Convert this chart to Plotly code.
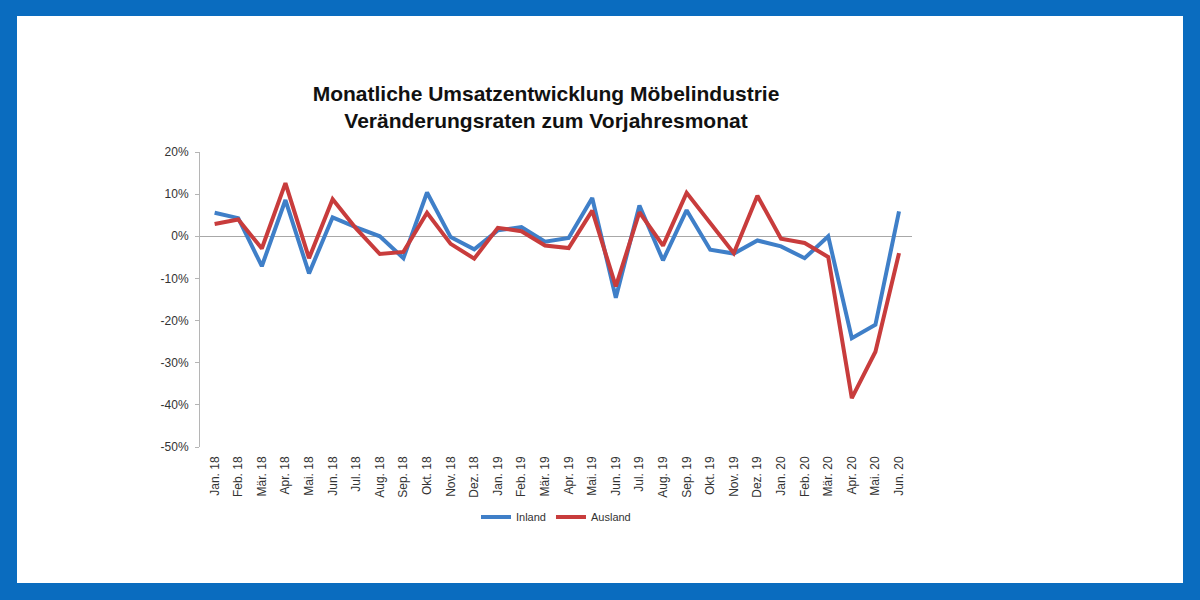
import plotly.graph_objects as go

months = ["Jan. 18", "Feb. 18", "Mär. 18", "Apr. 18", "Mai. 18", "Jun. 18", "Jul. 18", "Aug. 18",
          "Sep. 18", "Okt. 18", "Nov. 18", "Dez. 18", "Jan. 19", "Feb. 19", "Mär. 19", "Apr. 19",
          "Mai. 19", "Jun. 19", "Jul. 19", "Aug. 19", "Sep. 19", "Okt. 19", "Nov. 19", "Dez. 19",
          "Jan. 20", "Feb. 20", "Mär. 20", "Apr. 20", "Mai. 20", "Jun. 20"]

inland = [5.6, 4.3, -7.1, 8.6, -8.8, 4.5, 2.1, 0.0, -5.2, 10.4, -0.2, -3.1, 1.4, 2.2, -1.3,
          -0.4, 9.1, -14.6, 7.3, -5.7, 6.2, -3.2, -4.1, -1.0, -2.4, -5.2, 0.0, -24.2, -21.0, 5.9]
ausland = [2.9, 4.0, -2.9, 12.6, -5.2, 8.8, 1.8, -4.2, -3.7, 5.6, -1.8, -5.3, 2.0, 1.2, -2.2,
           -2.8, 6.1, -11.9, 5.7, -2.2, 10.3, 3.2, -4.0, 9.6, -0.6, -1.6, -4.9, -38.4, -27.4, -4.0]

y_ticks = [20, 10, 0, -10, -20, -30, -40, -50]
y_tick_labels = ["20%", "10%", "0%", "-10%", "-20%", "-30%", "-40%", "-50%"]

title_text = "Monatliche Umsatzentwicklung Möbelindustrie<br>Veränderungsraten zum Vorjahresmonat"

BLUE = "#3f7fc8"
RED = "#c83c3c"
FRAME = "#0a6cbf"

ML, MR, MT, MB = 200, 288, 152, 153
W, H = 1200, 600
pw, ph = W - ML - MR, H - MT - MB

fig = go.Figure()
fig.add_trace(go.Scatter(x=months, y=inland, mode="lines", name="Inland",
                         line=dict(color=BLUE, width=4)))
fig.add_trace(go.Scatter(x=months, y=ausland, mode="lines", name="Ausland",
                         line=dict(color=RED, width=4)))

# white inner panel inside blue frame
fig.add_shape(type="rect", xref="paper", yref="paper", layer="below",
              x0=(17 - ML) / pw, x1=(1183 - ML) / pw,
              y0=(H - MB - 583) / ph, y1=(H - MB - 16) / ph,
              fillcolor="white", line=dict(width=0))

fig.update_layout(
    width=W, height=H,
    margin=dict(l=ML, r=MR, t=MT, b=MB),
    paper_bgcolor=FRAME,
    plot_bgcolor="rgba(0,0,0,0)",
    font=dict(family="Liberation Sans, Arial, sans-serif", color="#222"),
    title=dict(text=title_text, x=(546 - ML) / pw, xref="paper", xanchor="center",
               y=1 - 101 / H, yanchor="middle",
               font=dict(size=21, color="#111", family="Liberation Sans, Arial, sans-serif",
                         weight="bold")),
    showlegend=True,
    legend=dict(orientation="h", x=0.5, xanchor="center", y=(H - MB - 517) / ph,
                yanchor="middle", font=dict(size=11, color="#333"),
                bgcolor="rgba(0,0,0,0)", itemwidth=30, tracegroupgap=0),
    xaxis=dict(type="category", range=[-0.62, 29.55], showgrid=False, showline=False,
               tickangle=-90, tickfont=dict(size=12, color="#333"), ticks="",
               ticklabelstandoff=6, zeroline=False),
    yaxis=dict(range=[-50, 20], tickvals=y_ticks, ticktext=y_tick_labels,
               showgrid=False, showline=True, linecolor="#b5b5b5", linewidth=1,
               ticks="outside", ticklen=4, tickcolor="#b5b5b5",
               zeroline=True, zerolinecolor="#a8a8a8", zerolinewidth=1,
               tickfont=dict(size=12, color="#333"), ticklabelstandoff=4),
)

fig.write_html("out.html", config={"displayModeBar": False},
               post_script="document.body.style.margin='0';document.body.style.padding='0';")
